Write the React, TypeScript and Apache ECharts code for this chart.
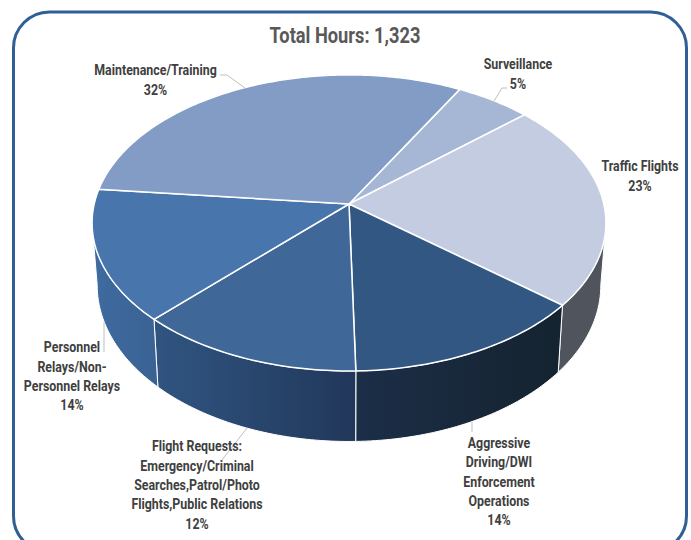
import React, { useEffect, useRef } from "react";
import * as echarts from "echarts";

const TITLE = "Total Hours: 1,323";
const categories = [
  "Surveillance",
  "Traffic Flights",
  "Aggressive\nDriving/DWI\nEnforcement\nOperations",
  "Flight Requests:\nEmergency/Criminal\nSearches,Patrol/Photo\nFlights,Public Relations",
  "Personnel\nRelays/Non-\nPersonnel Relays",
  "Maintenance/Training",
];
const percentLabels = ["5%", "23%", "14%", "12%", "14%", "32%"];
const shares = [5.4, 22.6, 13.6, 12.6, 14.4, 31.4];

const topColors = ["#A6B7D6", "#C3CCE0", "#335783", "#3F6899", "#4775AC", "#829CC5"];
const sideColors = [
  ["#8A97AE", "#8A97AE"],
  ["#50545C", "#50545C"],
  ["#1C2E48", "#14232F"],
  ["#305581", "#21375A"],
  ["#3F6BA0", "#3A6293"],
  ["#6B809F", "#6B809F"],
];

const labelPlaces = [
  [518, 63],
  [640, 165],
  [499, 441.5],
  [197, 445],
  [72, 346],
  [155.5, 69],
];
const leaderLines = [
  [[507, 88], [502, 88], [494, 101]],
  [[472, 422], [472, 432]],
  [[247, 428], [222, 460]],
  [[104, 322], [104, 352]],
  [[220, 75], [227, 75], [245, 88]],
];

// Perspective projection of the pie's unit disc.
const CX = 349;
const CY = 204;
const RX = 254.8;
const RY = 145.6;
const TILT = 0.128;
const START_DEG = 28.9;
const SIDE_FROM = 97.4;
const SIDE_TO = 262.6;
const total = shares.reduce((a, b) => a + b, 0);

function rim(deg: number): [number, number] {
  const t = (deg * Math.PI) / 180;
  const u = Math.sin(t);
  const v = -Math.cos(t);
  const w = 1 - TILT * v;
  return [CX + (RX * u) / w, CY + (RY * v) / w];
}
function lower(p: [number, number]): [number, number] {
  return [CX + 0.98 * (p[0] - CX), p[1] + 67 + 0.054 * (p[1] - 306)];
}
function range(i: number): [number, number] {
  let from = START_DEG;
  for (let k = 0; k < i; k++) from += (shares[k] / total) * 360;
  return [from, from + (shares[i] / total) * 360];
}
function arc(a: number, b: number) {
  const n = Math.max(2, Math.ceil(Math.abs(b - a)));
  const pts: [number, number][] = [];
  for (let k = 0; k <= n; k++) pts.push(rim(a + ((b - a) * k) / n));
  return pts;
}

export default function App() {
  const ref = useRef<HTMLDivElement>(null);
  useEffect(() => {
    const chart = echarts.init(ref.current!, null, { renderer: "svg" });
    const textStyle = {
      fontFamily: "Roboto",
      fontWeight: 700,
      fill: "#404040",
      align: "center",
      verticalAlign: "top",
    };
    chart.setOption({
      animation: false,
      backgroundColor: "#ffffff",
      graphic: [
        {
          type: "rect",
          silent: true,
          z: 0,
          shape: { x: 13.5, y: 12, width: 673, height: 540, r: 36 },
          style: { fill: "#ffffff", stroke: "#2F5F95", lineWidth: 3 },
        },
        {
          type: "text",
          x: 345,
          y: 24,
          scaleX: 0.83,
          z: 10,
          style: {
            text: TITLE,
            fontFamily: "Roboto",
            fontWeight: 700,
            fontSize: 22,
            fill: "#595959",
            align: "center",
            verticalAlign: "top",
          },
        },
        ...leaderLines.map((points) => ({
          type: "polyline",
          silent: true,
          z: 9,
          shape: { points },
          style: { fill: "none", stroke: "#BFBFBF", lineWidth: 1 },
        })),
        ...categories.map((name, i) => ({
          type: "text",
          x: labelPlaces[i][0],
          y: labelPlaces[i][1] - 8,
          scaleX: 0.885,
          z: 10,
          style: {
            ...textStyle,
            text: name + "\n" + percentLabels[i],
            fontSize: 14,
            lineHeight: 19.3,
          },
        })),
      ],
      series: [
        {
          type: "custom",
          coordinateSystem: "none",
          silent: true,
          z: 2,
          data: shares,
          renderItem: (params: any) => {
            const i = params.dataIndex;
            const [a, b] = range(i);
            const from = Math.max(a, SIDE_FROM);
            const to = Math.min(b, SIDE_TO);
            if (to <= from) return { type: "group", children: [] };
            const up = arc(from, to);
            const low = up.map(lower).reverse();
            return {
              type: "polygon",
              shape: { points: [...up, ...low] },
              style: {
                fill: new echarts.graphic.LinearGradient(0, 0, 1, 0, [
                  { offset: 0, color: sideColors[i][0] },
                  { offset: 1, color: sideColors[i][1] },
                ]),
                stroke: "#ffffff",
                lineWidth: 1,
              },
            };
          },
        },
        {
          type: "custom",
          coordinateSystem: "none",
          silent: true,
          z: 3,
          data: shares,
          renderItem: (params: any) => {
            const i = params.dataIndex;
            const [a, b] = range(i);
            return {
              type: "polygon",
              shape: { points: [[CX, CY], ...arc(a, b)] },
              style: { fill: topColors[i], stroke: "#ffffff", lineWidth: 1.5 },
            };
          },
        },
      ],
    });
    return () => chart.dispose();
  }, []);
  return (
    <div
      ref={ref}
      style={{ position: "absolute", left: 0, top: 0, width: 691, height: 540 }}
    />
  );
}
